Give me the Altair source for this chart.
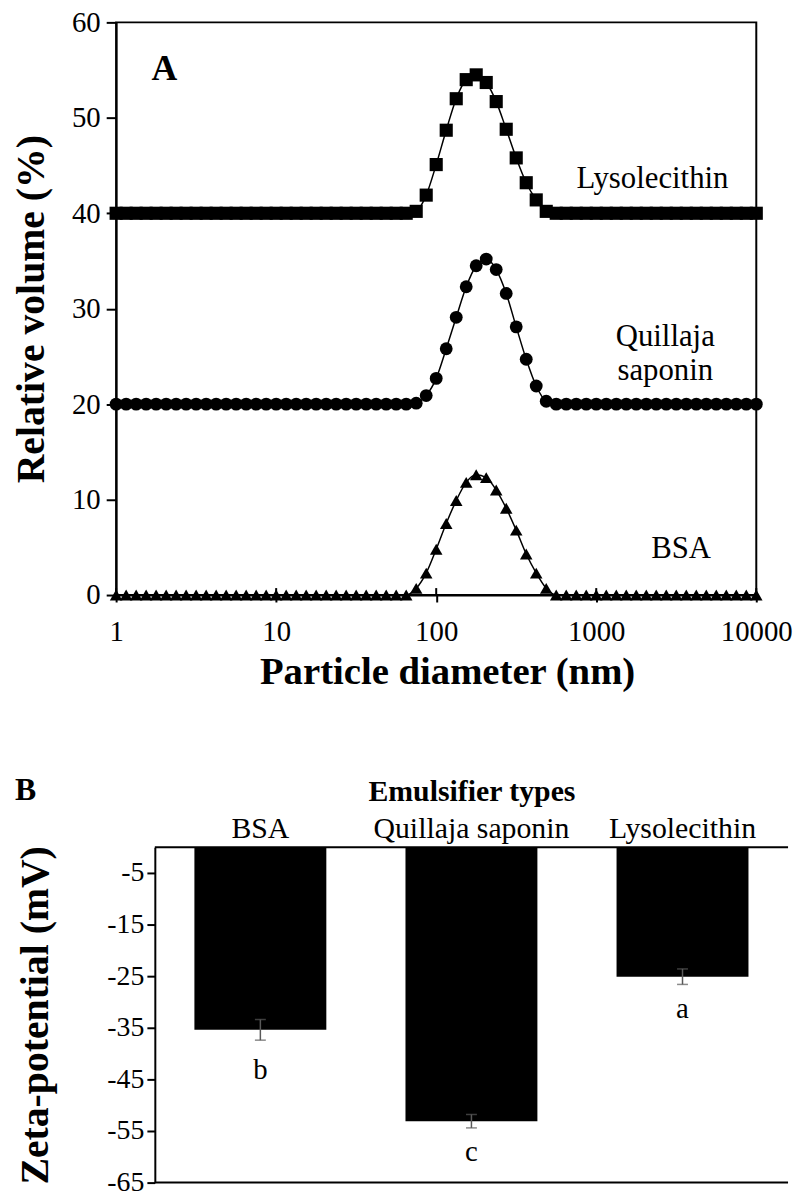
import altair as alt
import pandas as pd

FONT = "Liberation Serif, Times New Roman, serif"

# ---------------- Panel A : particle size distributions ----------------
diameters = [
    1.000, 1.155, 1.334, 1.540, 1.778, 2.054, 2.371, 2.738, 3.162, 3.652, 4.217, 4.870, 5.623, 6.494, 7.499, 8.660,
    10.00, 11.55, 13.34, 15.40, 17.78, 20.54, 23.71, 27.38, 31.62, 36.52, 42.17, 48.70, 56.23, 64.94, 74.99, 86.60,
    100.0, 115.5, 133.4, 154.0, 177.8, 205.4, 237.1, 273.8, 316.2, 365.2, 421.7, 487.0, 562.3, 649.4, 749.9, 866.0,
    1000, 1155, 1334, 1540, 1778, 2054, 2371, 2738, 3162, 3652, 4217, 4870, 5623, 6494, 7499, 8660,
    10000,
]
bsa = [
    0, 0, 0, 0, 0, 0, 0, 0, 0, 0, 0, 0, 0, 0, 0, 0,
    0, 0, 0, 0, 0, 0, 0, 0, 0, 0, 0, 0, 0, 0, 0.7, 2.3,
    4.8, 7.5, 9.9, 11.8, 12.6, 12.3, 11.0, 9.1, 6.8, 4.3, 2.3, 0.7, 0, 0, 0, 0,
    0, 0, 0, 0, 0, 0, 0, 0, 0, 0, 0, 0, 0, 0, 0, 0,
    0,
]
quillaja = [
    20, 20, 20, 20, 20, 20, 20, 20, 20, 20, 20, 20, 20, 20, 20, 20,
    20, 20, 20, 20, 20, 20, 20, 20, 20, 20, 20, 20, 20, 20, 20.1, 20.9,
    22.7, 25.8, 29.1, 32.3, 34.5, 35.2, 34.1, 31.6, 28.1, 24.7, 21.9, 20.3, 20, 20, 20, 20,
    20, 20, 20, 20, 20, 20, 20, 20, 20, 20, 20, 20, 20, 20, 20, 20,
    20,
]
lysolecithin = [
    40, 40, 40, 40, 40, 40, 40, 40, 40, 40, 40, 40, 40, 40, 40, 40,
    40, 40, 40, 40, 40, 40, 40, 40, 40, 40, 40, 40, 40, 40, 40.2, 41.9,
    45.1, 48.7, 52.0, 54.0, 54.5, 53.7, 51.7, 48.8, 45.8, 43.2, 41.4, 40.2, 40, 40, 40, 40,
    40, 40, 40, 40, 40, 40, 40, 40, 40, 40, 40, 40, 40, 40, 40, 40,
    40,
]
series_names = ["BSA", "Quillaja saponin", "Lysolecithin"]
x_ticks = [1, 10, 100, 1000, 10000]
y_ticks_a = [0, 10, 20, 30, 40, 50, 60]

dist = pd.DataFrame({
    "d": diameters * 3,
    "v": bsa + quillaja + lysolecithin,
    "s": [series_names[0]] * len(diameters) + [series_names[1]] * len(diameters) + [series_names[2]] * len(diameters),
})

# annotation texts (label, x in nm, y in %)
ann_labels = ["Lysolecithin", "Quillaja", "saponin", "BSA"]
ann_x = [2244, 2700, 2700, 3390]
ann_y = [43.6, 27.0, 23.5, 4.8]
ann = pd.DataFrame({"t": ann_labels, "x": ann_x, "y": ann_y})
panel_a = pd.DataFrame({"t": ["A"], "x": [2.0], "y": [55.1]})

xs = alt.Scale(type="log", domain=[1, 10000])
ys = alt.Scale(domain=[0, 60])
WA, HA = 645, 577

xa = alt.X("d:Q", scale=xs, axis=alt.Axis(
    values=x_ticks, format="d", title="Particle diameter (nm)", tickSize=7, tickWidth=2,
    domainWidth=2, labelFontSize=29, titleFontSize=39, titleFontWeight="bold",
    labelPadding=16, titlePadding=6, grid=False, labelFlush=False, titleX=WA / 2 + 11))
ya = alt.Y("v:Q", scale=ys, axis=alt.Axis(
    values=y_ticks_a, title="Relative volume (%)", tickSize=10, tickWidth=2,
    domainWidth=2, labelFontSize=29, titleFontSize=40, titleFontWeight="bold",
    labelPadding=6, titlePadding=20, grid=False))

base = alt.Chart(dist)
lines = base.mark_line(color="black", strokeWidth=1.5, interpolate="monotone").encode(
    x=xa, y=ya, detail="s:N")
points = base.mark_point(filled=True, opacity=1, color="black").encode(
    x=alt.X("d:Q", scale=xs), y=alt.Y("v:Q", scale=ys),
    shape=alt.Shape("s:N", scale=alt.Scale(domain=series_names, range=["triangle-up", "circle", "square"]), legend=None),
    size=alt.Size("s:N", scale=alt.Scale(domain=series_names, range=[160, 175, 230]), legend=None),
)
up_ticks = alt.Chart(pd.DataFrame({"d": x_ticks})).mark_rule(color="black", strokeWidth=2).encode(
    x=alt.X("d:Q", scale=xs), y=alt.value(HA - 7), y2=alt.value(HA))
texts = alt.Chart(ann).mark_text(font=FONT, fontSize=31, color="black").encode(
    x=alt.X("x:Q", scale=xs), y=alt.Y("y:Q", scale=ys), text="t:N")
label_a = alt.Chart(panel_a).mark_text(font=FONT, fontSize=36, fontWeight="bold", color="black").encode(
    x=alt.X("x:Q", scale=xs), y=alt.Y("y:Q", scale=ys), text="t:N")

top = alt.layer(lines, points, up_ticks, texts, label_a).properties(
    width=WA, height=HA, view=alt.ViewBackground(stroke="black", strokeWidth=2))

# ---------------- Panel B : zeta potential ----------------
emulsifiers = ["BSA", "Quillaja saponin", "Lysolecithin"]
zeta = [-35.4, -53.1, -25.1]
zeta_err = [2.0, 1.3, 1.5]
letters = ["b", "c", "a"]
letter_y = [-43.1, -59.1, -31.3]
y_ticks_b = [-5, -15, -25, -35, -45, -55, -65]

zdf = pd.DataFrame({"e": emulsifiers, "z": zeta, "err": zeta_err, "l": letters, "ly": letter_y})
zdf["lo"] = zdf["z"] - zdf["err"]
zdf["hi"] = zdf["z"] + zdf["err"]

WB, HB = 677, 338
SHIFT = 39  # the bar panel's y axis sits this far right of panel A's y axis
xb_scale = alt.Scale(domain=emulsifiers, range=[SHIFT, WB], paddingInner=0.375, paddingOuter=0.1875)
yb_scale = alt.Scale(domain=[-65, 0], nice=False)

xb = alt.X("e:N", scale=xb_scale, sort=emulsifiers, axis=alt.Axis(
    orient="top", title="Emulsifier types", labelAngle=0, ticks=False, domain=False, labelLimit=400,
    labelFontSize=30, titleFontSize=30, titleFontWeight="bold", labelPadding=4, titlePadding=7,
    titleX=(SHIFT + WB) / 2))
yb = alt.Y("z:Q", scale=yb_scale, axis=alt.Axis(
    values=y_ticks_b, labelExpr="datum.value + ''", title="Zeta-potential (mV)", tickSize=8,
    tickWidth=2, domainWidth=2, labelFontSize=28, titleFontSize=40, titleFontWeight="bold",
    labelPadding=3, titlePadding=52, grid=False, offset=-SHIFT))

bb = alt.Chart(zdf)
bars = bb.mark_bar(color="black").encode(x=xb, y=yb)
err_rule = bb.mark_rule(color="#595959", strokeWidth=1.5).encode(
    x=alt.X("e:N", scale=xb_scale, sort=emulsifiers), y=alt.Y("lo:Q", scale=yb_scale), y2="hi:Q")
cap_lo = bb.mark_tick(color="#595959", thickness=1.5, size=11).encode(
    x=alt.X("e:N", scale=xb_scale, sort=emulsifiers), y=alt.Y("lo:Q", scale=yb_scale))
cap_hi = bb.mark_tick(color="#595959", thickness=1.5, size=11).encode(
    x=alt.X("e:N", scale=xb_scale, sort=emulsifiers), y=alt.Y("hi:Q", scale=yb_scale))
let_text = bb.mark_text(font=FONT, fontSize=29, color="black").encode(
    x=alt.X("e:N", scale=xb_scale, sort=emulsifiers), y=alt.Y("ly:Q", scale=yb_scale), text="l:N")
frame_lines = alt.Chart(pd.DataFrame({"v": [0, y_ticks_b[-1]]})).mark_rule(color="black", strokeWidth=2).encode(
    y=alt.Y("v:Q", scale=yb_scale), x=alt.value(SHIFT), x2=alt.value(WB))
label_b = alt.Chart(pd.DataFrame({"t": ["B"]})).mark_text(
    font=FONT, fontSize=32, fontWeight="bold", color="black", align="left").encode(
    x=alt.value(-102), y=alt.value(-58), text="t:N")

bottom = alt.layer(bars, err_rule, cap_lo, cap_hi, let_text, frame_lines, label_b).properties(
    width=WB, height=HB)

chart = alt.vconcat(top, bottom, spacing=81).properties(
    padding={"left": 11, "top": 3, "right": 0, "bottom": 0}
).configure(font=FONT).configure_view(stroke="transparent").configure_axis(
    labelFont=FONT, titleFont=FONT, labelColor="black", titleColor="black",
    domainColor="black", tickColor="black"
)

chart.save("out.html", embed_options={"renderer": "svg", "actions": False})
